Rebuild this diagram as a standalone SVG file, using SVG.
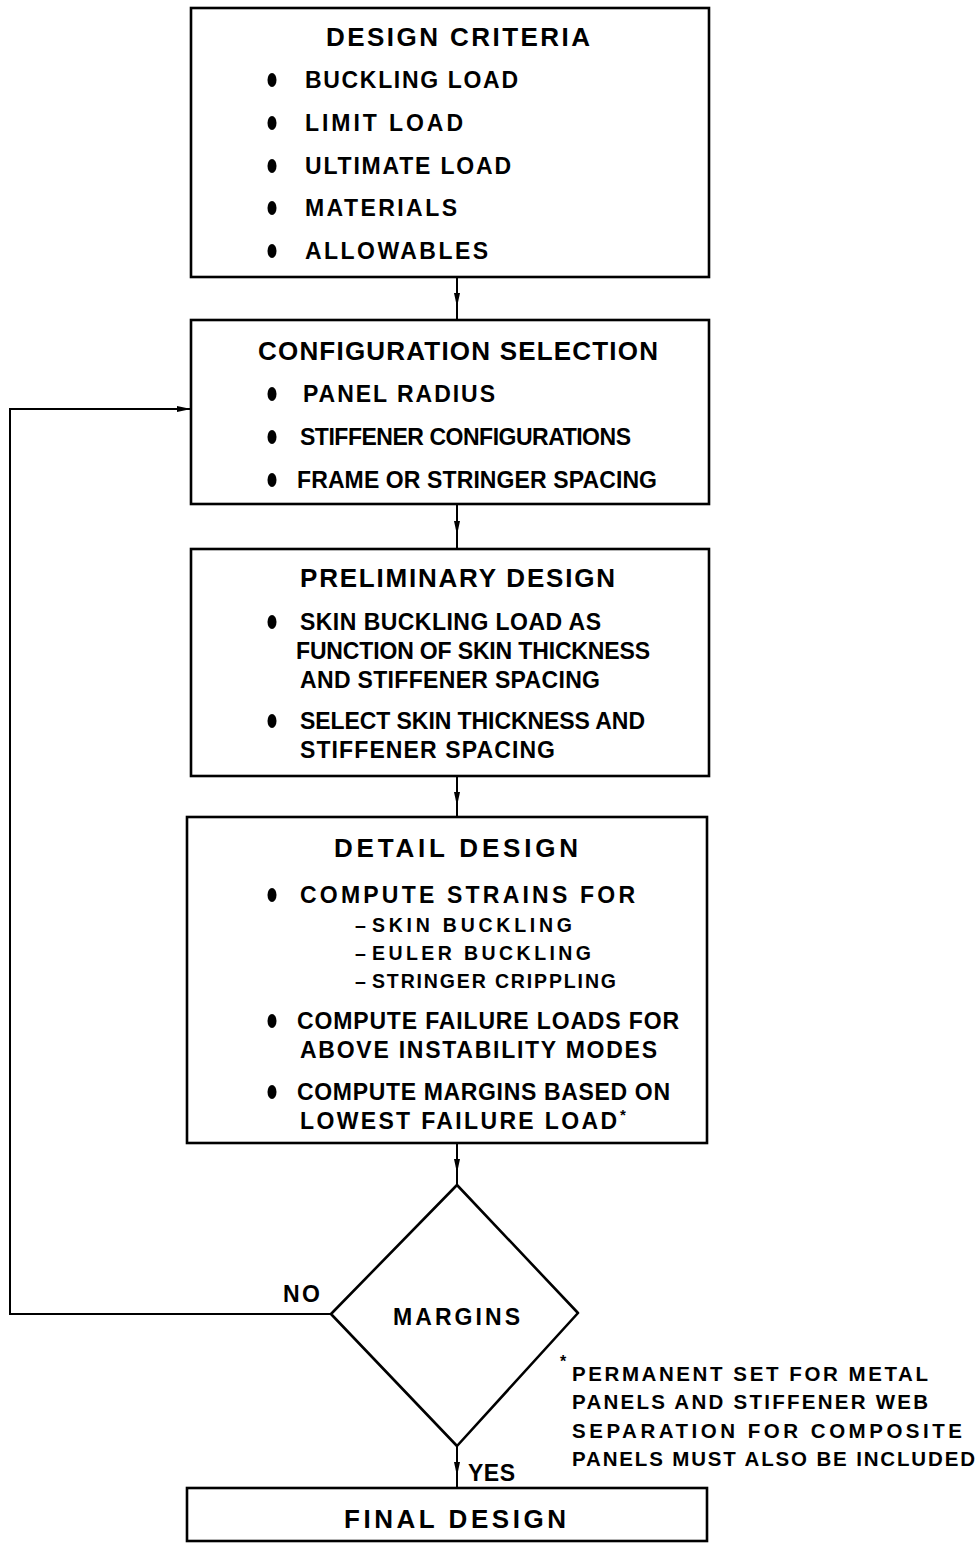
<svg xmlns="http://www.w3.org/2000/svg" width="980" height="1543" viewBox="0 0 980 1543">
<style>
.box{fill:#fff;stroke:#000;stroke-width:2.6}
.dia{fill:#fff;stroke:#000;stroke-width:2.6;stroke-linejoin:round}
.t{font-family:"Liberation Sans",Arial,sans-serif;font-weight:bold;fill:#000}
.h{font-size:26px}
.i{font-size:23px}
.s{font-size:19.5px}
.f{font-size:20.5px}
.ln{fill:none;stroke:#000;stroke-width:2}
</style>
<defs>
<marker id="ah" viewBox="0 0 14 8" refX="7" refY="4" markerWidth="14" markerHeight="8" markerUnits="userSpaceOnUse" orient="auto">
<path d="M0,1 L14,4 L0,7 Z" fill="#000"/>
</marker>
<marker id="ar" viewBox="0 0 14 8" refX="14" refY="4" markerWidth="14" markerHeight="8" markerUnits="userSpaceOnUse" orient="auto">
<path d="M0,1 L14,4 L0,7 Z" fill="#000"/>
</marker>
</defs>
<rect width="980" height="1543" fill="#fff"/>

<g id="connectors">
<path class="ln" d="M457,277 L457,300 L457,320" marker-mid="url(#ah)"/>
<path class="ln" d="M457,504 L457,528 L457,549" marker-mid="url(#ah)"/>
<path class="ln" d="M457,776 L457,799 L457,817" marker-mid="url(#ah)"/>
<path class="ln" d="M457,1143 L457,1166 L457,1185" marker-mid="url(#ah)"/>
<path class="ln" d="M457,1446 L457,1469 L457,1488" marker-mid="url(#ah)"/>
<path class="ln" d="M331,1314 L10,1314 L10,409 L191,409" marker-end="url(#ar)"/>
<text class="t i" x="283" y="1302" textLength="37" lengthAdjust="spacing">NO</text>
<text class="t i" x="468" y="1481" textLength="47" lengthAdjust="spacing">YES</text>
</g>

<g id="design-criteria">
<rect class="box" x="191" y="8" width="518" height="269"/>
<text class="t h" x="326" y="46" textLength="264" lengthAdjust="spacing">DESIGN CRITERIA</text>
<ellipse cx="272" cy="80" rx="4.5" ry="7"/>
<text class="t i" x="305" y="88" textLength="213" lengthAdjust="spacing">BUCKLING LOAD</text>
<ellipse cx="272" cy="123" rx="4.5" ry="7"/>
<text class="t i" x="305" y="131" textLength="158" lengthAdjust="spacing">LIMIT LOAD</text>
<ellipse cx="272" cy="166" rx="4.5" ry="7"/>
<text class="t i" x="305" y="174" textLength="206" lengthAdjust="spacing">ULTIMATE LOAD</text>
<ellipse cx="272" cy="208" rx="4.5" ry="7"/>
<text class="t i" x="305" y="216" textLength="152" lengthAdjust="spacing">MATERIALS</text>
<ellipse cx="272" cy="251" rx="4.5" ry="7"/>
<text class="t i" x="305" y="259" textLength="183" lengthAdjust="spacing">ALLOWABLES</text>
</g>

<g id="configuration-selection">
<rect class="box" x="191" y="320" width="518" height="184"/>
<text class="t h" x="258" y="360" textLength="400" lengthAdjust="spacing">CONFIGURATION SELECTION</text>
<ellipse cx="272" cy="394" rx="4.5" ry="7"/>
<text class="t i" x="303" y="402" textLength="192" lengthAdjust="spacing">PANEL RADIUS</text>
<ellipse cx="272" cy="437" rx="4.5" ry="7"/>
<text class="t i" x="300" y="445" textLength="331" lengthAdjust="spacing">STIFFENER CONFIGURATIONS</text>
<ellipse cx="272" cy="480" rx="4.5" ry="7"/>
<text class="t i" x="297" y="488" textLength="360" lengthAdjust="spacing">FRAME OR STRINGER SPACING</text>
</g>

<g id="preliminary-design">
<rect class="box" x="191" y="549" width="518" height="227"/>
<text class="t h" x="300" y="587" textLength="315" lengthAdjust="spacing">PRELIMINARY DESIGN</text>
<ellipse cx="272" cy="622" rx="4.5" ry="7"/>
<text class="t i" x="300" y="630" textLength="301" lengthAdjust="spacing">SKIN BUCKLING LOAD AS</text>
<text class="t i" x="296" y="659" textLength="354" lengthAdjust="spacing">FUNCTION OF SKIN THICKNESS</text>
<text class="t i" x="300" y="688" textLength="300" lengthAdjust="spacing">AND STIFFENER SPACING</text>
<ellipse cx="272" cy="721" rx="4.5" ry="7"/>
<text class="t i" x="300" y="729" textLength="345" lengthAdjust="spacing">SELECT SKIN THICKNESS AND</text>
<text class="t i" x="300" y="758" textLength="255" lengthAdjust="spacing">STIFFENER SPACING</text>
</g>

<g id="detail-design">
<rect class="box" x="187" y="817" width="520" height="326"/>
<text class="t h" x="334" y="857" textLength="244" lengthAdjust="spacing">DETAIL DESIGN</text>
<ellipse cx="272" cy="895" rx="4.5" ry="7"/>
<text class="t i" x="300" y="903" textLength="335" lengthAdjust="spacing">COMPUTE STRAINS FOR</text>
<text class="t s" x="355" y="932">–</text>
<text class="t s" x="372" y="932" textLength="200" lengthAdjust="spacing">SKIN BUCKLING</text>
<text class="t s" x="355" y="960">–</text>
<text class="t s" x="372" y="960" textLength="219" lengthAdjust="spacing">EULER BUCKLING</text>
<text class="t s" x="355" y="988">–</text>
<text class="t s" x="372" y="988" textLength="244" lengthAdjust="spacing">STRINGER CRIPPLING</text>
<ellipse cx="272" cy="1021" rx="4.5" ry="7"/>
<text class="t i" x="297" y="1029" textLength="382" lengthAdjust="spacing">COMPUTE FAILURE LOADS FOR</text>
<text class="t i" x="300" y="1058" textLength="357" lengthAdjust="spacing">ABOVE INSTABILITY MODES</text>
<ellipse cx="272" cy="1092" rx="4.5" ry="7"/>
<text class="t i" x="297" y="1100" textLength="373" lengthAdjust="spacing">COMPUTE MARGINS BASED ON</text>
<text class="t i" x="300" y="1129" textLength="317" lengthAdjust="spacing">LOWEST FAILURE LOAD</text>
<text class="t" x="620" y="1120" font-size="15">*</text>
</g>

<g id="margins">
<path class="dia" d="M457,1185 L578,1313 L457,1446 L331,1314 Z"/>
<text class="t i" x="393" y="1325" textLength="127" lengthAdjust="spacing">MARGINS</text>
</g>

<g id="footnote">
<text class="t" x="560" y="1367" font-size="16">*</text>
<text class="t f" x="572" y="1381" textLength="356" lengthAdjust="spacing">PERMANENT SET FOR METAL</text>
<text class="t f" x="572" y="1409" textLength="356" lengthAdjust="spacing">PANELS AND STIFFENER WEB</text>
<text class="t f" x="572" y="1438" textLength="390" lengthAdjust="spacing">SEPARATION FOR COMPOSITE</text>
<text class="t f" x="572" y="1466" textLength="403" lengthAdjust="spacing">PANELS MUST ALSO BE INCLUDED</text>
</g>

<g id="final-design">
<rect class="box" x="187" y="1488" width="520" height="53"/>
<text class="t h" x="344" y="1528" textLength="222" lengthAdjust="spacing">FINAL DESIGN</text>
</g>
</svg>
